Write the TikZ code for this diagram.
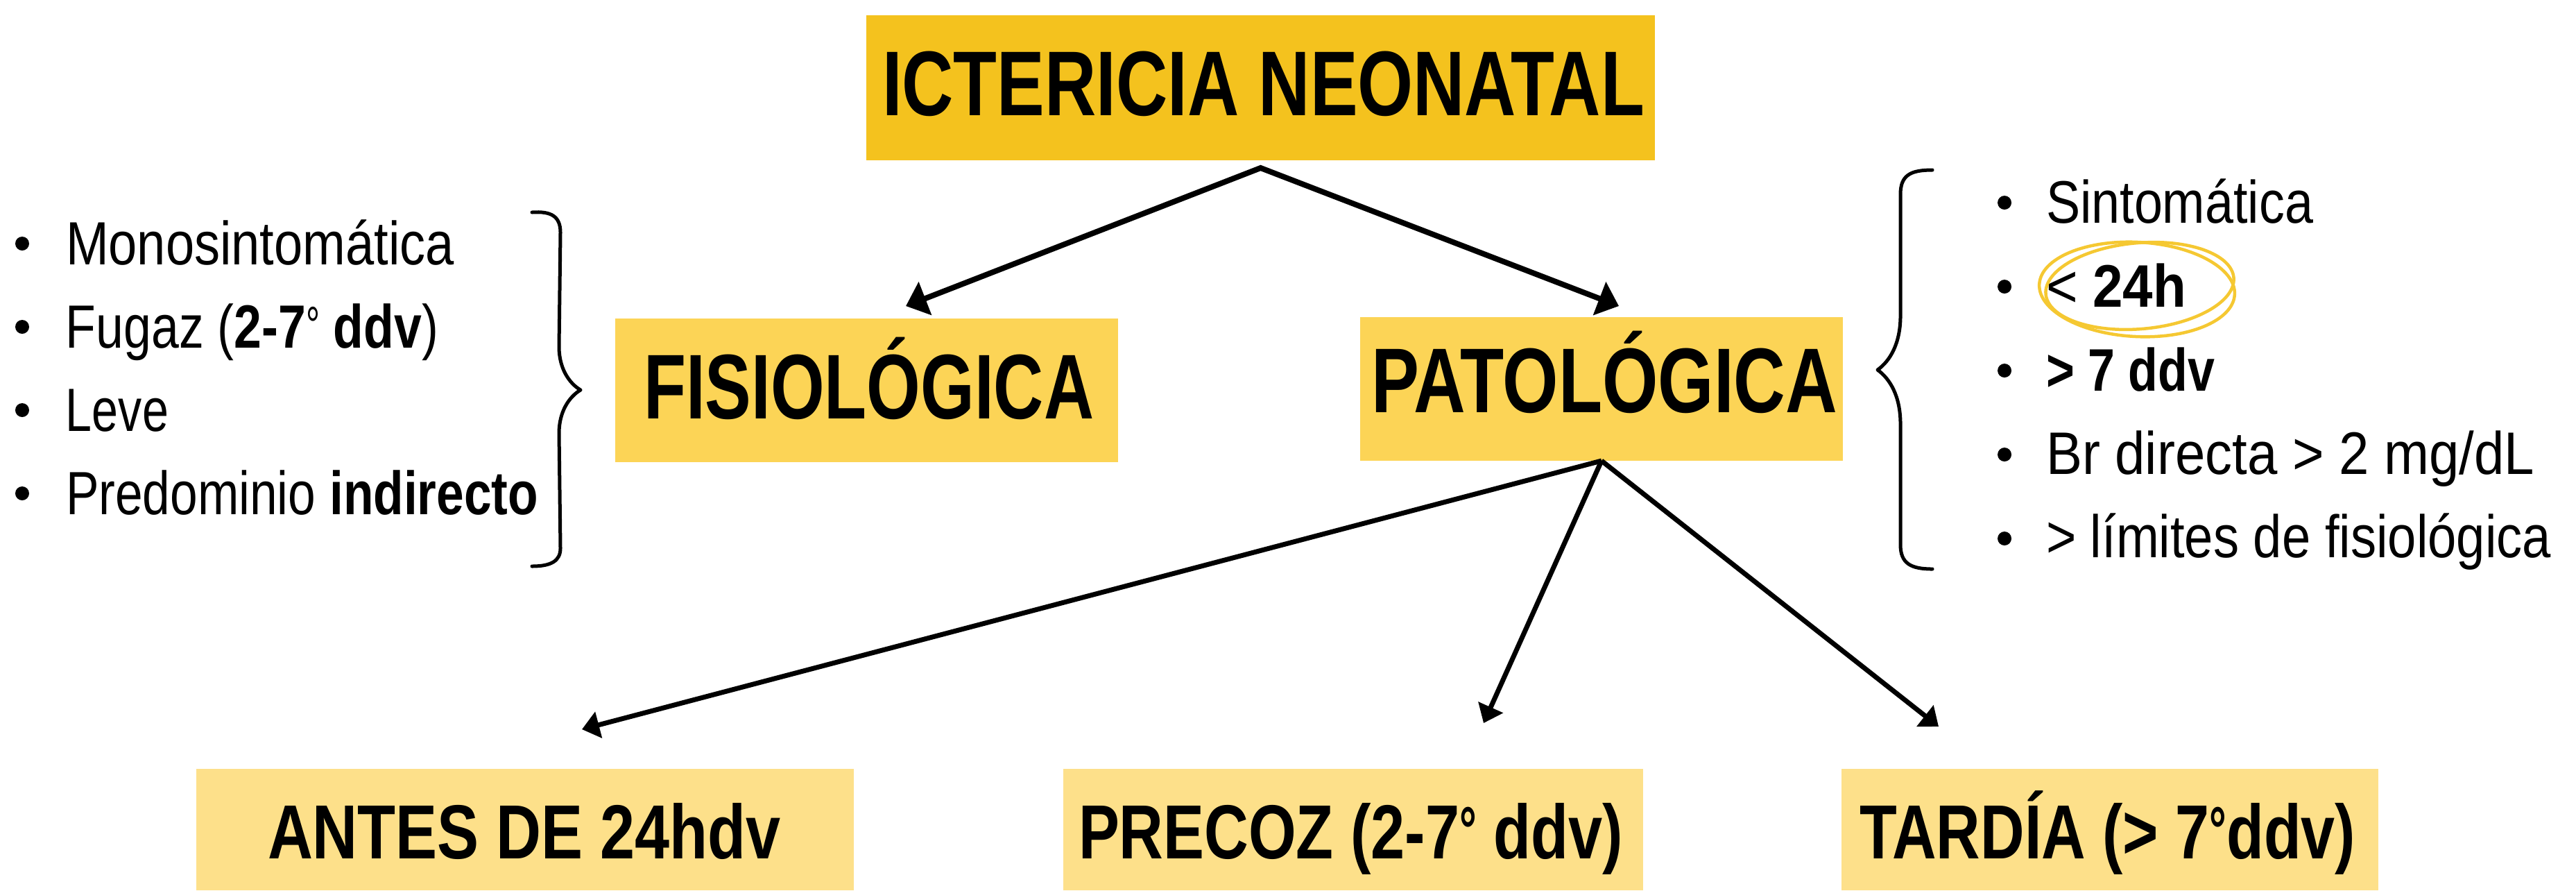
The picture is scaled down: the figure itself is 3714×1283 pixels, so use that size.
\documentclass[tikz,border=0pt]{standalone}
\usepackage{fontspec}
\setmainfont{Liberation Sans}
\usepackage{graphicx}
\usetikzlibrary{arrows.meta}
\definecolor{ctitle}{HTML}{F4C21E}
\definecolor{cmid}{HTML}{FCD456}
\definecolor{clow}{HTML}{FDE08A}
\definecolor{ccirc}{HTML}{F5C832}
\newcommand\fitw[2]{\resizebox{#1}{\height}{#2}}
\newcommand\dgr{\raisebox{0.15ex}{\scalebox{0.7}[0.85]{°}}}
\begin{document}
\begin{tikzpicture}[x=0.2pt,y=-0.2pt,
  boxc/.style={inner sep=0, outer sep=0, draw=none},
  txt/.style={anchor=base west, inner sep=0, outer sep=0},
  bigtxt/.style={txt, font=\fontsize{26.5}{30}\selectfont\bfseries},
  lowtxt/.style={txt, font=\fontsize{22.1}{26}\selectfont\bfseries},
  ltxt/.style={txt, font=\fontsize{17.6}{20}\selectfont},
  rtxt/.style={txt, font=\fontsize{17.3}{20}\selectfont},
  bul/.style={circle, fill=black, inner sep=0, minimum size=4pt},
  arrtop/.style={line width=1.6pt, line join=miter, {Triangle[length=6pt,width=10pt]}-{Triangle[length=6pt,width=10pt]}},
  arrlow/.style={line width=1.4pt, -{Triangle[length=5pt,width=7.6pt]}},
  bracestyle/.style={line width=1pt, line cap=round, line join=round},
  circ/.style={draw=ccirc, line width=0.9pt}]
\useasboundingbox (0,0) rectangle (3714,1283);
% boxes
\node[boxc, fill=ctitle, minimum width=227.4pt, minimum height=41.8pt] (title) at (1817.5,126.5) {};
\node[boxc, fill=cmid, minimum width=145pt, minimum height=41.4pt] (fisio) at (1249.5,562.5) {};
\node[boxc, fill=cmid, minimum width=139.2pt, minimum height=41.4pt] (pato) at (2309,560.5) {};
\node[boxc, fill=clow, minimum width=189.6pt, minimum height=35pt] (antes) at (757,1195.5) {};
\node[boxc, fill=clow, minimum width=167.2pt, minimum height=35pt] (precoz) at (1951,1195.5) {};
\node[boxc, fill=clow, minimum width=154.8pt, minimum height=35pt] (tardia) at (3042,1195.5) {};
% box texts
\node[bigtxt] (ttitle) at (1272,166) {\fitw{219.8pt}{ICTERICIA NEONATAL}};
\node[bigtxt] (tfisio) at (928,603) {\fitw{129.8pt}{FISIOLÓGICA}};
\node[bigtxt] (tpato) at (1977,594) {\fitw{134.4pt}{PATOLÓGICA}};
\node[lowtxt] (tantes) at (386,1237) {\fitw{148pt}{ANTES DE 24hdv}};
\node[lowtxt] (tprecoz) at (1555,1237) {\fitw{157pt}{PRECOZ (2-7\dgr{} ddv)}};
\node[lowtxt] (ttardia) at (2681,1237) {\fitw{143pt}{TARDÍA (> 7\dgr ddv)}};
% arrows
\coordinate (tipF) at (1306,441);
\coordinate (tipP) at (2334,441);
\draw[arrtop] (tipF) -- ([yshift=-2.2pt]title.south) -- (tipP);
\coordinate (tipA) at (839,1051);
\coordinate (tipB) at (2139,1042);
\coordinate (tipC) at (2795,1047);
\draw[arrlow] (pato.south) -- (tipA);
\draw[arrlow] (pato.south) -- (tipB);
\draw[arrlow] (pato.south) -- (tipC);
% left list
\node[bul] (lb1) at (32,351) {};
\node[bul] (lb2) at (32,471) {};
\node[bul] (lb3) at (32,591) {};
\node[bul] (lb4) at (32,711) {};
\node[ltxt] (l1) at (95,381) {\fitw{112pt}{Monosintomática}};
\node[ltxt] (l2) at (95,501) {\fitw{107.4pt}{Fugaz (\textbf{2-7}\dgr\textbf{ ddv})}};
\node[ltxt] (l3) at (95,621) {\fitw{29.6pt}{Leve}};
\node[ltxt] (l4) at (95,741) {\fitw{136.2pt}{Predominio \textbf{indirecto}}};
\draw[bracestyle] (767,306) .. controls (795,304) and (808,312) .. (808,335) -- (806,500) .. controls (806,530) and (820,552) .. (837,562) .. controls (820,572) and (806,594) .. (806,624) -- (808,790) .. controls (808,808) and (795,816) .. (767,816);
% right list
\node[bul] (rb1) at (2890,292) {};
\node[bul] (rb2) at (2890,413) {};
\node[bul] (rb3) at (2890,534) {};
\node[bul] (rb4) at (2890,655) {};
\node[bul] (rb5) at (2890,776) {};
\node[rtxt] (r1) at (2950,321) {\fitw{77pt}{Sintomática}};
\node[rtxt] (r2) at (2950,442) {\fitw{40.4pt}{< \textbf{24h}}};
\node[rtxt] (r3) at (2950,563) {\fitw{48.6pt}{\textbf{> 7 ddv}}};
\node[rtxt] (r4) at (2950,683) {\fitw{140.8pt}{Br directa > 2 mg/dL}};
\node[rtxt] (r5) at (2950,803) {\fitw{145.6pt}{> límites de fisiológica}};
\draw[bracestyle] (2786,245) .. controls (2755,245) and (2740,252) .. (2740,280) -- (2740,455) .. controls (2740,495) and (2725,520) .. (2707,533) .. controls (2725,546) and (2740,571) .. (2740,611) -- (2740,785) .. controls (2740,812) and (2755,820) .. (2786,820);
% hand-drawn circle
\draw[circ] (3081,417) ellipse [x radius=28.2pt, y radius=13.6pt, rotate=-3];
\draw[circ] (3085,412) ellipse [x radius=27.2pt, y radius=12.4pt, rotate=5];
\end{tikzpicture}
\end{document}
